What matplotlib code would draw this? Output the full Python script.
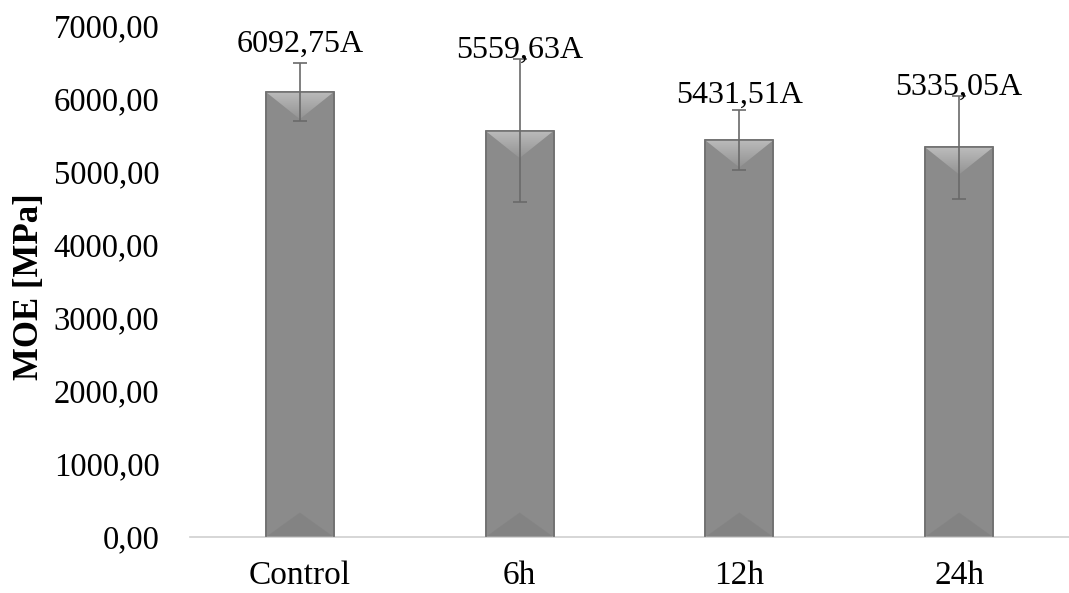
import numpy as np
import matplotlib.pyplot as plt
from matplotlib.patches import Polygon
from matplotlib.ticker import FuncFormatter
from matplotlib.colors import LinearSegmentedColormap

plt.rcParams['font.family'] = ['Liberation Serif', 'DejaVu Serif']

# data
groups = ['Control', '6h', '12h', '24h']
moe = [6092.75, 5559.63, 5431.51, 5335.05]
moe_sd = [395, 980, 410, 705]
letters = ['A', 'A', 'A', 'A']
label_y = [6742, 6667, 6051, 6160]  # where the value labels sit (MPa)

fig = plt.figure(figsize=(10.69, 5.93), dpi=100)
ax = fig.add_axes([0.1777, 0.0944, 0.8223, 0.8624])

x = np.arange(len(groups))
width = 0.31
ax.bar(x, moe, width, color='#8b8b8b', edgecolor='#727272', linewidth=1.2, zorder=2)
ax.set_xlim(-0.5, len(groups) - 0.5)
ax.set_ylim(0, 7000)

# bevel effect: lighter top triangle, darker bottom triangle
fig.canvas.draw()
px_per_x = ax.transData.transform((1, 0))[0] - ax.transData.transform((0, 0))[0]
px_per_y = ax.transData.transform((0, 1000))[1] - ax.transData.transform((0, 0))[1]
depth = 0.4 * width * px_per_x / px_per_y * 1000

bevel = LinearSegmentedColormap.from_list('bevel', ['#939393', '#bcbcbc'])
grad = np.linspace(0, 1, 64).reshape(-1, 1)
for xi, h in zip(x, moe):
    l, r = xi - width / 2, xi + width / 2
    tri = Polygon([(l, h), (r, h), (xi, h - depth)], closed=True,
                  facecolor='none', edgecolor='none', zorder=3)
    ax.add_patch(tri)
    im = ax.imshow(grad, extent=(l, r, h - depth, h), origin='lower', aspect='auto',
                   cmap=bevel, zorder=3)
    im.set_clip_path(tri)
    bot = Polygon([(l, 0), (r, 0), (xi, depth * 0.9)], closed=True,
                  facecolor='#7d7d7d', edgecolor='none', alpha=0.5, zorder=3)
    ax.add_patch(bot)
    ax.plot([l, l, r, r], [0, h, h, 0], color='#727272', lw=1.2, zorder=4)

ax.errorbar(x, moe, yerr=moe_sd, fmt='none', ecolor='#6a6a6a', elinewidth=1.2,
            capsize=5, capthick=1.2, zorder=5)

for xi, v, ly, let in zip(x, moe, label_y, letters):
    txt = f'{v:.2f}'.replace('.', ',') + let
    ax.text(xi, ly, txt, ha='center', va='center', fontsize=23, zorder=6)

ax.yaxis.set_major_formatter(FuncFormatter(lambda v, p: f'{v:.2f}'.replace('.', ',')))
ax.set_yticks(np.arange(0, 7001, 1000))
ax.set_xticks(x)
ax.set_xticklabels(groups)
ax.tick_params(axis='y', length=0, pad=22, labelsize=23.5)
ax.tick_params(axis='x', length=0, pad=17, labelsize=24)

for s in ['top', 'right', 'left']:
    ax.spines[s].set_visible(False)
ax.spines['bottom'].set_color('#d0d0d0')
ax.spines['bottom'].set_linewidth(1.2)

fig.text(30 / 1069, 1 - 287 / 593, 'MOE [MPa]', rotation=90, ha='center', va='center',
         fontsize=25, fontweight='bold')

fig.savefig('out.png', dpi=100)
